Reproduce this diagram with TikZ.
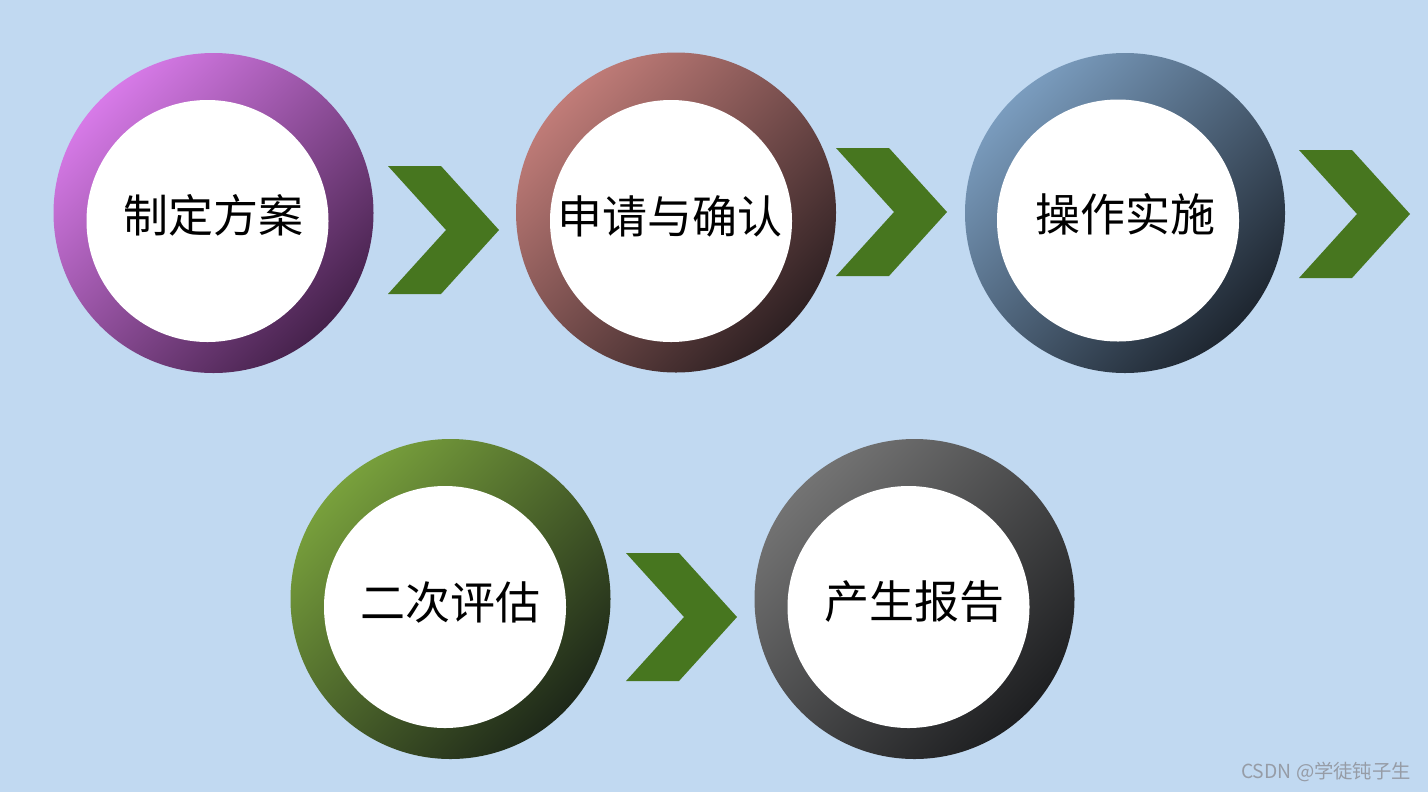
\documentclass[tikz,border=0pt]{standalone}
\usepackage{fontspec}
\newfontfamily\cjk{Noto Sans CJK SC}
\usetikzlibrary{calc}

\definecolor{fond}{RGB}{193,217,241}
\definecolor{vert}{RGB}{71,118,31}
\definecolor{violetA}{RGB}{215,122,232}
\definecolor{violetB}{RGB}{70,34,76}
\definecolor{brunA}{RGB}{192,124,120}
\definecolor{brunB}{RGB}{46,32,34}
\definecolor{bleuA}{RGB}{122,156,190}
\definecolor{bleuB}{RGB}{30,38,48}
\definecolor{oliveA}{RGB}{120,160,60}
\definecolor{oliveB}{RGB}{30,40,25}
\definecolor{grisA}{RGB}{115,115,115}
\definecolor{grisB}{RGB}{30,31,33}
\definecolor{filigrane}{RGB}{150,156,166}

\tikzset{
  ring/.style 2 args={circle, minimum size=6.4cm, inner sep=0pt,
    top color=#1, bottom color=#2, shading angle=45},
  coeur/.style={fill=white},
  etape/.style={font=\cjk\fontsize{25.6}{30}\selectfont, inner sep=0pt},
  chevron/.style={fill=vert}
}

\begin{document}
\begin{tikzpicture}
    % Fond
    \fill[fond] (0,0) rectangle (28.56,-15.84);
    \useasboundingbox (0,0) rectangle (28.56,-15.84);

    % Anneaux (premiere ligne)
    \node[ring={violetA}{violetB}] (s1) at (4.27,-4.26) {};
    \node[ring={brunA}{brunB}]     (s2) at (13.52,-4.25) {};
    \node[ring={bleuA}{bleuB}]     (s3) at (22.50,-4.26) {};
    % Anneaux (deuxieme ligne)
    \node[ring={oliveA}{oliveB}]   (s4) at (9.01,-11.98) {};
    \node[ring={grisA}{grisB}]     (s5) at (18.29,-11.98) {};

    % Disques blancs, un peu decales vers le bas a gauche
    \fill[coeur] ($(s1)+(-0.12,-0.16)$) circle (2.42);
    \fill[coeur] ($(s2)+(-0.10,-0.17)$) circle (2.42);
    \fill[coeur] ($(s3)+(-0.14,-0.15)$) circle (2.42);
    \fill[coeur] ($(s4)+(-0.11,-0.16)$) circle (2.42);
    \fill[coeur] ($(s5)+(-0.12,-0.16)$) circle (2.42);

    % Textes
    \node[etape] (t1) at ($(s1)+(0,-0.04)$) {制定方案};
    \node[etape] (t2) at ($(s2)+(-0.12,-0.07)$) {申请与确认};
    \node[etape] (t3) at ($(s3)+(0,-0.02)$) {操作实施};
    \node[etape] (t4) at ($(s4)+(0,-0.06)$) {二次评估};
    \node[etape] (t5) at ($(s5)+(0,-0.06)$) {产生报告};

    % Chevrons entre les etapes
    \coordinate (ch1) at (7.76,-3.32);
    \coordinate (ch2) at (16.72,-2.96);
    \coordinate (ch3) at (25.98,-3.00);
    \coordinate (ch4) at (12.52,-11.06);
    \fill[chevron] (ch1) -- ++(1.06,0) -- ++(1.16,-1.28) -- ++(-1.16,-1.28) -- ++(-1.06,0) -- ++(1.16,1.28) -- cycle;
    \fill[chevron] (ch2) -- ++(1.06,0) -- ++(1.16,-1.28) -- ++(-1.16,-1.28) -- ++(-1.06,0) -- ++(1.16,1.28) -- cycle;
    \fill[chevron] (ch3) -- ++(1.06,0) -- ++(1.16,-1.28) -- ++(-1.16,-1.28) -- ++(-1.06,0) -- ++(1.16,1.28) -- cycle;
    \fill[chevron] (ch4) -- ++(1.06,0) -- ++(1.16,-1.28) -- ++(-1.16,-1.28) -- ++(-1.06,0) -- ++(1.16,1.28) -- cycle;

    % Filigrane
    \node[font=\cjk\fontsize{11}{13}\selectfont, text=filigrane, inner sep=0pt] (wm) at (26.52,-15.44) {CSDN @学徒钝子生};
\end{tikzpicture}
\end{document}
